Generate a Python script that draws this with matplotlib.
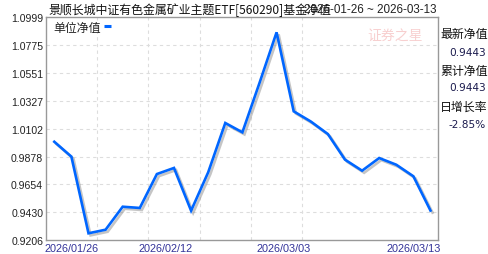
import matplotlib
matplotlib.use("Agg")
import matplotlib.pyplot as plt
import matplotlib.patheffects as pe

# 单位净值 per trading day
nav = [0.9997, 0.9877, 0.9260, 0.9289, 0.9474, 0.9464, 0.9737, 0.9786,
       0.9442, 0.9751, 1.0148, 1.0073, 1.0470, 1.0878, 1.0242, 1.0160,
       1.0059, 0.9853, 0.9764, 0.9866, 0.9812, 0.9719, 0.9443]
y_ticks = [0.9206, 0.9430, 0.9654, 0.9878, 1.0102, 1.0327, 1.0551, 1.0775, 1.0999]
date_labels = ["2026/01/26", "2026/02/12", "2026/03/03", "2026/03/13"]
date_pos = [-0.58, 4.9, 11.8, 19.4]
vgrid_pos = [2.5, 5.5, 8.5, 11.5, 14.5]

title = "景顺长城中证有色金属矿业主题ETF[560290]基金净值"
date_range = "2026-01-26 ~ 2026-03-13"
side_labels = ["最新净值", "累计净值", "日增长率"]
side_values = ["0.9443", "0.9443", "-2.85%"]

cjk = ["Noto Sans CJK SC", "DejaVu Sans"]
num = ["Liberation Sans", "DejaVu Sans"]

fig = plt.figure(figsize=(4.88, 2.55), dpi=100)
ax = fig.add_axes([46 / 488, 1 - 241 / 255, (438 - 46) / 488, (241 - 18.3) / 255])

x = list(range(len(nav)))
ax.plot(x, nav, color="#0066ff", lw=1.9, solid_joinstyle="miter",
        path_effects=[pe.SimpleLineShadow(offset=(1.5, -1.5), shadow_color="#808080", alpha=0.45),
                      pe.Normal()], zorder=3)

ax.set_xlim(-0.485, 22.44)
ax.set_ylim(y_ticks[0], y_ticks[-1])

# dashed grid
for yv in y_ticks[1:-1]:
    ax.axhline(yv, color="#dddddd", lw=0.8, ls=(0, (3, 3)), zorder=1)
for xv in vgrid_pos:
    ax.axvline(xv, color="#dddddd", lw=0.8, ls=(0, (3, 3)), zorder=1)

for s in ax.spines.values():
    s.set_color("#999999")
    s.set_linewidth(1.0)

ax.set_yticks(y_ticks)
ax.set_yticklabels([f"{v:.4f}" for v in y_ticks], family=num, fontsize=7.6, color="#222222")
ax.tick_params(axis="y", length=0, pad=2)
ax.set_xticks([])

for lab, p in zip(date_labels, date_pos):
    ax.text(p, -0.012, lab, transform=ax.get_xaxis_transform(), ha="left", va="top",
            family=num, fontsize=7.8, color="#333399")

# legend
ax.text(0.018, 0.952, "单位净值", transform=ax.transAxes, ha="left", va="center",
        family=cjk, fontsize=8.6, color="#222222")
ax.plot([0.148, 0.166], [0.962, 0.962], transform=ax.transAxes, color="#0066ff", lw=2.2,
        solid_capstyle="butt")

# watermark
ax.text(0.89, 0.915, "证券之星", transform=ax.transAxes, ha="center", va="center",
        family=cjk, fontsize=10, color="#f6c4c4", alpha=0.8, style="italic", zorder=0)

# title with overlapping date range (overlap as in the original)
fig.text(48 / 488, 1 - 10 / 255, title, ha="left", va="center", family=cjk,
         fontsize=8.6, color="#111111")
fig.text(437 / 488, 1 - 10 / 255, date_range, ha="right", va="center", family=num,
         fontsize=8.4, color="#222222")

# right side info
ys = [35, 52.7, 71, 88.3, 107.3, 125]
for i in range(3):
    fig.text(440 / 488, 1 - ys[2 * i] / 255, side_labels[i], ha="left", va="center",
             family=cjk, fontsize=8.6, color="#111111")
    fig.text(486 / 488, 1 - ys[2 * i + 1] / 255, side_values[i], ha="right", va="center",
             family=["DejaVu Sans"], fontsize=7.6, color="#1a1a4d")

fig.savefig("out.png", dpi=100)
